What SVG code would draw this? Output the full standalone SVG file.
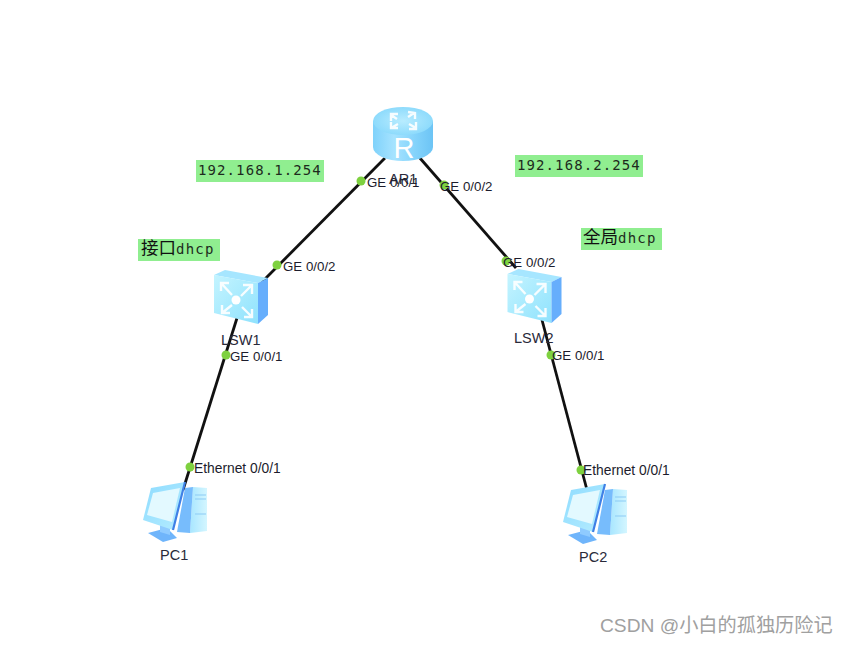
<svg xmlns="http://www.w3.org/2000/svg" width="847" height="645" viewBox="0 0 847 645">
<style>
.lbl{font-family:"Liberation Sans",Arial,sans-serif;font-size:13.3px;fill:#1c1c2c}
.eth{font-family:"Liberation Sans",Arial,sans-serif;font-size:13.8px;fill:#1c1c2c}
.nm{font-family:"Liberation Sans",Arial,sans-serif;font-size:14.5px;fill:#2a2a3a}
.ip{font-family:"DejaVu Sans Mono",monospace;font-size:14px;fill:#1d2b1d;letter-spacing:1.1px;font-weight:500}
.cn{font-family:"DejaVu Sans Mono","Noto Sans CJK SC",monospace;font-size:17.5px;fill:#111}
.tag{font-family:"DejaVu Sans Mono",monospace;font-size:14px;fill:#1d2b1d;letter-spacing:1.2px}
.box{fill:#90ee90}
.wire{stroke:#111;stroke-width:2.8;fill:none}
.dot{fill:#7ed13f}
.arrow{fill:none;stroke:#fff;stroke-width:2.4;opacity:.9}
</style>
<defs>
<linearGradient id="rb" x1="0" x2="1" y1="0" y2="0"><stop offset="0" stop-color="#7fd2fb"/><stop offset=".35" stop-color="#a6e3ff"/><stop offset=".7" stop-color="#84d3fb"/><stop offset="1" stop-color="#6cc4f5"/></linearGradient>
<radialGradient id="rt"><stop offset="0" stop-color="#b8ecff"/><stop offset="1" stop-color="#8edbfc"/></radialGradient>
<linearGradient id="sf" x1="0" x2="1" y1="0" y2="1"><stop offset="0" stop-color="#c4f4ff"/><stop offset="1" stop-color="#8fe2fd"/></linearGradient>
<linearGradient id="mon" x1="0" x2="1" y1="0" y2="1"><stop offset="0" stop-color="#8edcff"/><stop offset="1" stop-color="#b5ecff"/></linearGradient>
<linearGradient id="tw" x1="0" x2="1" y1="0" y2="0"><stop offset="0" stop-color="#a8e6ff"/><stop offset="1" stop-color="#d4f6ff"/></linearGradient>
<g id="sw">
<polygon points="0,5 11,0 54,8 44,13" fill="#a6e6ff"/>
<polygon points="0,5 44,13 44,54 0,43" fill="url(#sf)"/>
<polygon points="44,13 54,8 54,45 44,54" fill="#66aefc"/>
<circle cx="22" cy="30" r="4.5" fill="#fff"/>
<path class="arrow" d="M7,13L18,25M7,21V13H15M38,15L27,26M29,15L38,15V24M8,43L18,35M8,35V43H16M38,47L28,37M38,39V47H30"/>
</g>
<g id="pc">
<polygon points="50,5 64,6 64,49 47,51" fill="url(#tw)"/>
<polygon points="42,6 50,5 47,51 34,50" fill="#77bcfc"/>
<polygon points="5,51 24,46 34,56 20,60" fill="#6fb5fb"/>
<polygon points="17,39 27,43 27,53 17,50" fill="#8fcbff"/>
<polygon points="8,6 42,0 30,48 0,38" fill="url(#mon)"/>
<polygon points="10,11 37,6 29,40 4,33" fill="#e3f9ff"/>
<path d="M42,0L30,48" stroke="#3f80e6" stroke-width="2.2" fill="none"/>
<path d="M52,13H63M52,17H63M52,32H63" stroke="#8ccbf5" stroke-width="1" fill="none"/>
</g>
</defs>
<rect width="847" height="645" fill="#fff"/>
<g id="connectors">
<path class="wire" d="M385,158L262,282"/>
<path class="wire" d="M419,157L516,268"/>
<path class="wire" d="M237,318L183,490"/>
<path class="wire" d="M542,320L587,490"/>
</g>
<g id="AR1">
<path d="M373,121V147A30,14 0 0 0 433,147V121Z" fill="url(#rb)"/>
<ellipse cx="403" cy="121" rx="30" ry="14" fill="url(#rt)"/>
<path class="arrow" d="M391,115L397,119M391,121V114H398M414,113L408,117M408,112L415,113V119M391,128L398,124M391,122V128H398M416,128L409,124M416,122V129H409"/>
<text x="404" y="158" text-anchor="middle" font-family="Liberation Sans,Arial,sans-serif" font-size="29" fill="#fff">R</text>
<text class="nm" x="389" y="184">AR1</text>
</g>
<g id="LSW1">
<use href="#sw" x="214" y="270"/>
<text class="nm" x="221" y="345">LSW1</text>
</g>
<g id="LSW2">
<use href="#sw" x="507.500" y="269"/>
<text class="nm" x="514" y="343">LSW2</text>
</g>
<g id="PC1">
<use href="#pc" x="143" y="482"/>
<text class="nm" x="160" y="560">PC1</text>
</g>
<g id="PC2">
<use href="#pc" x="563" y="484"/>
<text class="nm" x="579" y="562">PC2</text>
</g>
<g id="ports">
<circle class="dot" cx="361" cy="181" r="4.500"/><text class="lbl" x="367" y="187">GE 0/0/1</text>
<circle class="dot" cx="444" cy="185" r="4.500"/><text class="lbl" x="440" y="191">GE 0/0/2</text>
<circle class="dot" cx="277" cy="265" r="4.500"/><text class="lbl" x="283" y="271">GE 0/0/2</text>
<circle class="dot" cx="506" cy="261" r="4.500"/><text class="lbl" x="503" y="267">GE 0/0/2</text>
<circle class="dot" cx="226" cy="355" r="4.500"/><text class="lbl" x="230" y="361">GE 0/0/1</text>
<circle class="dot" cx="551" cy="355" r="4.500"/><text class="lbl" x="552" y="360">GE 0/0/1</text>
<circle class="dot" cx="190" cy="467" r="4.500"/><text class="eth" x="194" y="473">Ethernet 0/0/1</text>
<circle class="dot" cx="581" cy="470" r="4.500"/><text class="eth" x="583" y="475">Ethernet 0/0/1</text>
</g>
<g id="note-ip1"><rect class="box" x="196" y="160" width="128" height="22"/><text class="ip" x="198" y="175">192.168.1.254</text></g>
<g id="note-ip2"><rect class="box" x="515" y="155" width="128" height="22"/><text class="ip" x="517" y="170">192.168.2.254</text></g>
<g id="note-if"><rect class="box" x="138" y="239" width="82" height="22"/><text class="cn" x="141" y="254">接口<tspan class="tag">dhcp</tspan></text></g>
<g id="note-global"><rect class="box" x="581" y="228" width="81" height="22"/><text class="cn" x="583" y="243">全局<tspan class="tag">dhcp</tspan></text></g>
<text x="600" y="632" font-family="Liberation Sans,'Noto Sans CJK SC',sans-serif" font-size="19.200" fill="#a0a0a0">CSDN @小白的孤独历险记</text>
</svg>
